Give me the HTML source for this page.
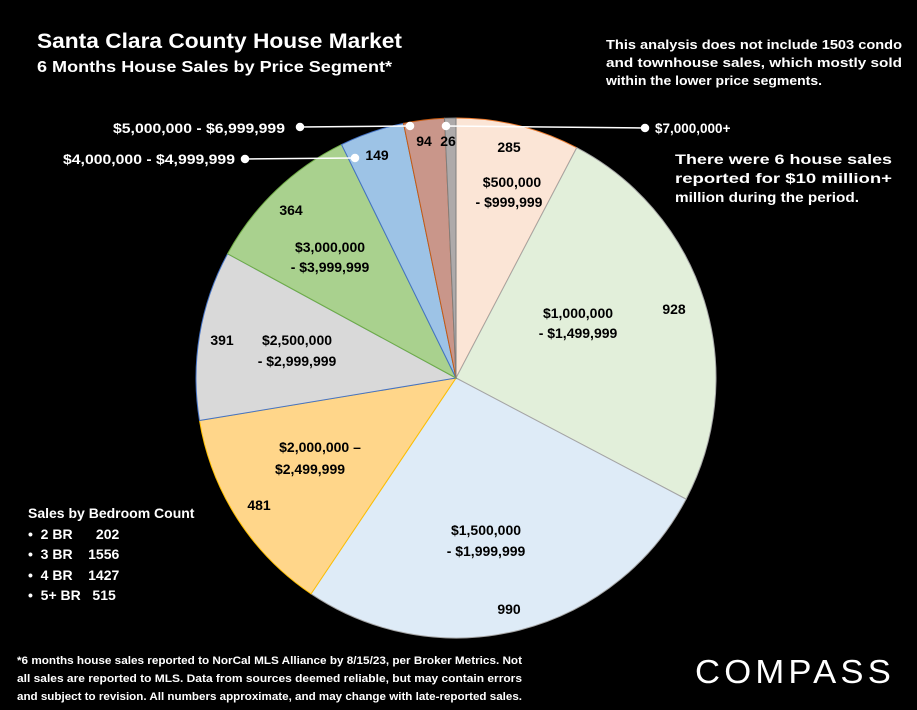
<!DOCTYPE html>
<html><head><meta charset="utf-8"><style>
html,body{margin:0;padding:0;background:#000;}
svg{display:block;font-family:"Liberation Sans",sans-serif;}
</style></head><body>
<svg id="chart" width="917" height="710" viewBox="0 0 917 710">
<rect width="917" height="710" fill="#000"/>
<g id="slices"></g>
<g font-weight="bold" fill="#fff">
<text x="37" y="48" font-size="21" textLength="365" lengthAdjust="spacingAndGlyphs">Santa Clara County House Market</text>
<text x="37" y="72" font-size="16" textLength="355" lengthAdjust="spacingAndGlyphs">6 Months House Sales by Price Segment*</text>
<text x="606" y="49" font-size="12.5" textLength="296" lengthAdjust="spacingAndGlyphs">This analysis does not include 1503 condo</text>
<text x="606" y="67" font-size="12.5" textLength="296" lengthAdjust="spacingAndGlyphs">and townhouse sales, which mostly sold</text>
<text x="606" y="85" font-size="12.5" textLength="216" lengthAdjust="spacingAndGlyphs">within the lower price segments.</text>
<text x="675" y="164" font-size="13.5" textLength="217" lengthAdjust="spacingAndGlyphs">There were 6 house sales</text>
<text x="675" y="183" font-size="13.5" textLength="217" lengthAdjust="spacingAndGlyphs">reported for $10 million+</text>
<text x="675" y="202" font-size="13.5" textLength="184" lengthAdjust="spacingAndGlyphs">million during the period.</text>
<text x="655" y="133" font-size="13.5">$7,000,000+</text>
<text x="113" y="133" font-size="13.5" textLength="172" lengthAdjust="spacingAndGlyphs">$5,000,000 - $6,999,999</text>
<text x="63" y="164" font-size="13.5" textLength="172" lengthAdjust="spacingAndGlyphs">$4,000,000 - $4,999,999</text>
</g>
<g stroke="#fff" stroke-width="1.5" fill="#fff">
<line x1="300" y1="127" x2="410" y2="126"/><circle cx="300" cy="127" r="3.5"/><circle cx="410" cy="126" r="3.5"/>
<line x1="245" y1="159" x2="355" y2="158"/><circle cx="245" cy="159" r="3.5"/><circle cx="355" cy="158" r="3.5"/>
<line x1="446" y1="126" x2="645" y2="128"/><circle cx="446" cy="126" r="3.5"/><circle cx="645" cy="128" r="3.5"/>
</g>
<g font-weight="bold" fill="#000" font-size="14" text-anchor="middle">
<text x="424" y="146">94</text><text x="448" y="146">26</text><text x="377" y="160">149</text>
<text x="509" y="152">285</text>
<text x="512" y="187">$500,000</text><text x="509" y="207">- $999,999</text>
<text x="674" y="314">928</text>
<text x="578" y="318">$1,000,000</text><text x="578" y="338">- $1,499,999</text>
<text x="291" y="215">364</text>
<text x="330" y="252">$3,000,000</text><text x="330" y="272">- $3,999,999</text>
<text x="222" y="345">391</text>
<text x="297" y="345">$2,500,000</text><text x="297" y="366">- $2,999,999</text>
<text x="320" y="452">$2,000,000 –</text><text x="310" y="474">$2,499,999</text>
<text x="259" y="510">481</text>
<text x="486" y="535">$1,500,000</text><text x="486" y="556">- $1,999,999</text>
<text x="509" y="614">990</text>
</g>
<g fill="#fff" font-weight="bold" font-size="14">
<text x="28" y="518">Sales by Bedroom Count</text>
<text x="28" y="539">•&#160;&#160;2 BR&#160;&#160;&#160;&#160;&#160;&#160;202</text>
<text x="28" y="559">•&#160;&#160;3 BR&#160;&#160;&#160;&#160;1556</text>
<text x="28" y="580">•&#160;&#160;4 BR&#160;&#160;&#160;&#160;1427</text>
<text x="28" y="600">•&#160;&#160;5+ BR&#160;&#160;&#160;515</text>
</g>
<g fill="#fff" font-weight="bold" font-size="11">
<text x="17" y="664" textLength="505" lengthAdjust="spacingAndGlyphs">*6 months house sales reported to NorCal MLS Alliance by 8/15/23, per Broker Metrics. Not</text>
<text x="17" y="682" textLength="505" lengthAdjust="spacingAndGlyphs">all sales are reported to MLS. Data from sources deemed reliable, but may contain errors</text>
<text x="17" y="700" textLength="505" lengthAdjust="spacingAndGlyphs">and subject to revision. All numbers approximate, and may change with late-reported sales.</text>
</g>
<text x="695" y="683" fill="#fff" font-size="33" textLength="200" lengthAdjust="spacingAndGlyphs" letter-spacing="4">COMPASS</text>
</svg>
<script>
const categories = ["$500,000 - $999,999","$1,000,000 - $1,499,999","$1,500,000 - $1,999,999","$2,000,000 - $2,499,999","$2,500,000 - $2,999,999","$3,000,000 - $3,999,999","$4,000,000 - $4,999,999","$5,000,000 - $6,999,999","$7,000,000+"];
const values = [285, 928, 990, 481, 391, 364, 149, 94, 26];
const fills = ["#fbe5d6","#e2efda","#deebf7","#ffd68a","#d9d9d9","#a9d18e","#9dc3e6","#c9968a","#aeaaaa"];
const edges = ["#ed7d31","#a5a5a5","#a5a5a5","#ffc000","#4472c4","#70ad47","#4472c4","#c55a11","#7f7f7f"];
const cx = 456, cy = 378, r = 260;
const total = values.reduce((a,b)=>a+b,0);
const g = document.getElementById('slices');
let a0 = 0;
values.forEach((v,i)=>{
  const a1 = a0 + v/total*2*Math.PI;
  const x0 = cx + r*Math.sin(a0), y0 = cy - r*Math.cos(a0);
  const x1 = cx + r*Math.sin(a1), y1 = cy - r*Math.cos(a1);
  const large = (a1-a0) > Math.PI ? 1 : 0;
  const p = document.createElementNS('http://www.w3.org/2000/svg','path');
  p.setAttribute('d', `M${cx},${cy} L${x0},${y0} A${r},${r} 0 ${large} 1 ${x1},${y1} Z`);
  p.setAttribute('fill', fills[i]);
  p.setAttribute('stroke', edges[i]);
  p.setAttribute('stroke-width', '1');
  
  
  g.appendChild(p);
  a0 = a1;
});
</script>
</body></html>
